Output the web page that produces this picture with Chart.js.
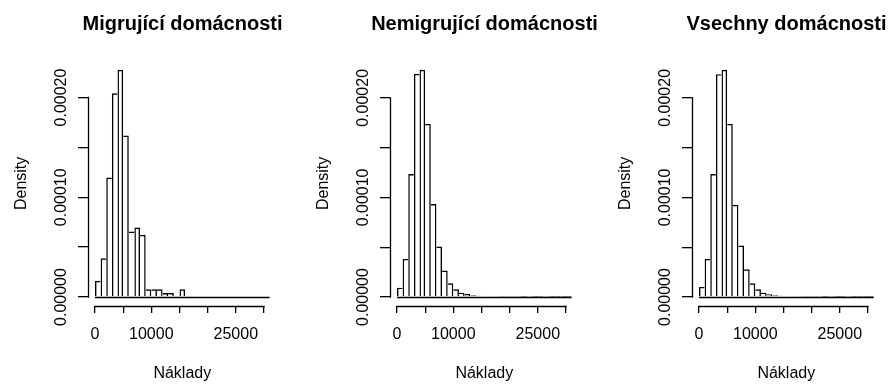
<!DOCTYPE html>
<html>
<head>
<meta charset="utf-8">
<script src="https://cdn.jsdelivr.net/npm/chart.js@4.4.1/dist/chart.umd.min.js"></script>
<style>
  html, body { margin: 0; padding: 0; background: #fff; overflow: hidden; }
  #wrap { position: relative; width: 892px; height: 385px; overflow: hidden; background: #fff; }
  #wrap canvas { position: absolute; top: 0; }
</style>
</head>
<body>
<div id="wrap">
  <canvas id="hist_migr" width="365" height="385" style="left:0px"></canvas>
  <canvas id="hist_nemigr" width="365" height="385" style="left:302px"></canvas>
  <canvas id="hist_vse" width="365" height="385" style="left:604px"></canvas>
</div>
<script>
// bin edges of the histograms (Kč)
const breaks = [0, 1000, 2000, 3000, 4000, 5000, 6000, 7000, 8000, 9000, 10000,
  11000, 12000, 13000, 14000, 15000, 16000, 17000, 18000, 19000, 20000,
  21000, 22000, 23000, 24000, 25000, 26000, 27000, 28000, 29000, 30000, 31000];

// densities per bin
const migrujici = [0.0000161, 0.0000388, 0.0001197, 0.0002043, 0.0002278, 0.0001619,
  0.0000656, 0.0000696, 0.0000622, 0.0000077, 0.0000077, 0.0000077, 0.0000040,
  0.0000040, 0, 0.0000077, 0, 0, 0, 0, 0, 0, 0, 0, 0, 0, 0, 0, 0, 0, 0];
const nemigrujici = [0.0000094, 0.0000383, 0.0001235, 0.0002242, 0.0002282, 0.0001738,
  0.0000933, 0.0000507, 0.0000265, 0.0000138, 0.0000077, 0.0000044, 0.0000030,
  0.0000017, 0.0000013, 0.0000008, 0.0000006, 0.0000004, 0.0000003, 0.0000003,
  0.0000002, 0.0000002, 0.0000001, 0.0000002, 0.0000001, 0.0000001, 0.0000002,
  0.0000001, 0.0000001, 0.0000001, 0.0000001];
const vsechny = [0.0000101, 0.0000383, 0.0001235, 0.0002238, 0.0002282, 0.0001738,
  0.0000926, 0.0000517, 0.0000279, 0.0000138, 0.0000077, 0.0000044, 0.0000027,
  0.0000017, 0.0000013, 0.0000008, 0.0000006, 0.0000004, 0.0000003, 0.0000003,
  0.0000002, 0.0000002, 0.0000001, 0.0000002, 0.0000001, 0.0000001, 0.0000002,
  0.0000001, 0.0000001, 0.0000001, 0.0000001];

const xTicks = [0, 5000, 10000, 15000, 20000, 25000, 30000];
const xTickLabels = ['0', '', '10000', '', '', '25000', ''];
const yTicks = [0, 0.00005, 0.0001, 0.00015, 0.0002];
const yTickLabels = ['0.00000', '', '0.00010', '', '0.00020'];

Chart.defaults.font.family = "'Liberation Sans', Arial, Helvetica, sans-serif";
Chart.defaults.font.size = 16;
Chart.defaults.color = '#000';

const LW = 1.3;

// axis lines only span first..last tick, like base R graphics
const axisLines = {
  id: 'axisLines',
  afterDraw(chart) {
    const {ctx, chartArea, scales: {x, y}} = chart;
    const px = v => Math.round(v - 0.5) + 0.5;
    ctx.save();
    ctx.strokeStyle = '#000';
    ctx.lineWidth = LW;
    ctx.lineCap = 'square';
    ctx.beginPath();
    const yb = px(chartArea.bottom);
    ctx.moveTo(x.getPixelForValue(xTicks[0]), yb);
    ctx.lineTo(x.getPixelForValue(xTicks[xTicks.length - 1]), yb);
    const xl = px(chartArea.left);
    ctx.moveTo(xl, y.getPixelForValue(yTicks[0]));
    ctx.lineTo(xl, y.getPixelForValue(yTicks[yTicks.length - 1]));
    ctx.stroke();
    ctx.restore();
  }
};

// zero line under the bars (empty bins show up as a flat line)
const baseLine = {
  id: 'baseLine',
  afterDatasetsDraw(chart) {
    const {ctx, scales: {x, y}} = chart;
    const y0 = Math.round(y.getPixelForValue(0) - 0.5) + 0.5;
    ctx.save();
    ctx.strokeStyle = '#000';
    ctx.lineWidth = LW;
    ctx.beginPath();
    ctx.moveTo(x.getPixelForValue(breaks[0]), y0);
    ctx.lineTo(x.getPixelForValue(breaks[breaks.length - 1]), y0);
    ctx.stroke();
    ctx.restore();
  }
};

// shared edges are drawn once, by the taller of the two bars
function edgeWidths(values) {
  return (c) => {
    const i = c.dataIndex;
    const v = values[i];
    const prev = i > 0 ? values[i - 1] : 0;
    const next = i < values.length - 1 ? values[i + 1] : 0;
    return {top: 1.4, bottom: 0, left: v > prev ? 1.4 : 0, right: v >= next ? 1.4 : 0};
  };
}

function makeHist(canvasId, title, values) {
  const points = values.map((v, i) => ({x: (breaks[i] + breaks[i + 1]) / 2, y: v}));
  const span = breaks[breaks.length - 1] - breaks[0];
  const top = Math.max(...values);

  new Chart(document.getElementById(canvasId), {
    type: 'bar',
    plugins: [axisLines, baseLine],
    data: {
      datasets: [{
        data: points,
        backgroundColor: 'rgba(0,0,0,0)',
        borderColor: '#000',
        borderWidth: edgeWidths(values),
        borderSkipped: false,
        inflateAmount: 0,
        barPercentage: 1,
        categoryPercentage: 1
      }]
    },
    options: {
      responsive: false,
      animation: false,
      layout: {padding: 0},
      plugins: {
        legend: {display: false},
        tooltip: {enabled: false},
        title: {
          display: true,
          text: title,
          font: {size: 20, weight: 'bold'},
          padding: {top: 12.8, bottom: 23.9}
        }
      },
      scales: {
        x: {
          type: 'linear',
          offset: false,
          min: breaks[0] - 0.04 * span,
          max: breaks[breaks.length - 1] + 0.04 * span,
          afterBuildTicks: (axis) => { axis.ticks = xTicks.map(v => ({value: v})); },
          afterFit: (scale) => { scale.height = 78.9; },
          border: {display: false},
          grid: {offset: false, drawOnChartArea: false, drawTicks: true, tickLength: 7, color: '#000', lineWidth: LW},
          ticks: {
            autoSkip: false,
            maxRotation: 0,
            padding: 11.8,
            callback: (v) => xTickLabels[xTicks.indexOf(v)]
          },
          title: {display: true, text: 'Náklady', padding: {top: 0, bottom: 1.4}}
        },
        y: {
          min: -0.04 * top,
          max: 1.04 * top,
          afterBuildTicks: (axis) => { axis.ticks = yTicks.map(v => ({value: v})); },
          afterFit: (scale) => { scale.width = 88; },
          border: {display: false},
          grid: {drawOnChartArea: false, drawTicks: true, tickLength: 10, color: '#000', lineWidth: LW},
          ticks: {
            autoSkip: false,
            minRotation: 90,
            maxRotation: 90,
            crossAlign: 'center',
            padding: -12.1,
            callback: (v) => yTickLabels[yTicks.indexOf(v)]
          },
          title: {display: true, text: 'Density', padding: {top: 11.6, bottom: 0}}
        },
        // empty right margin, same width as the left one, so the title centres over the plot
        margin: {
          type: 'linear',
          position: 'right',
          display: true,
          afterFit: (scale) => { scale.width = 88.4; },
          border: {display: false},
          grid: {display: false},
          ticks: {display: false}
        }
      }
    }
  });
}

makeHist('hist_migr', 'Migrující domácnosti', migrujici);
makeHist('hist_nemigr', 'Nemigrující domácnosti', nemigrujici);
makeHist('hist_vse', 'Vsechny domácnosti', vsechny);
</script>
</body>
</html>
